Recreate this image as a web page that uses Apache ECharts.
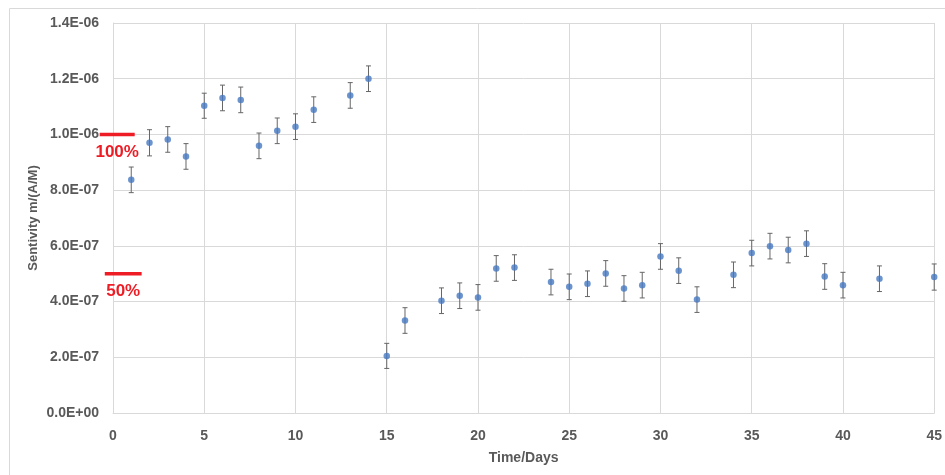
<!DOCTYPE html>
<html>
<head>
<meta charset="utf-8">
<script src="https://cdn.jsdelivr.net/npm/echarts@6/dist/echarts.min.js"></script>
<style>
  html, body { margin: 0; padding: 0; background: #fff; }
  #chart { width: 945px; height: 475px; }
</style>
</head>
<body>
<div id="chart"></div>
<script>
// Measurement days
const days = [1, 2, 3, 4, 5, 6, 7, 8, 9, 10, 11, 13, 14, 15, 16, 18, 19, 20, 21, 22,
              24, 25, 26, 27, 28, 29, 30, 31, 32, 34, 35, 36, 37, 38, 39, 40, 42, 45];
// Sensitivity values, m/(A/M)
const sensitivity = [8.37e-7, 9.70e-7, 9.82e-7, 9.21e-7, 1.103e-6, 1.131e-6, 1.124e-6, 9.59e-7,
                     1.013e-6, 1.028e-6, 1.089e-6, 1.140e-6, 1.200e-6, 2.05e-7, 3.32e-7, 4.03e-7,
                     4.21e-7, 4.15e-7, 5.19e-7, 5.22e-7, 4.70e-7, 4.53e-7, 4.64e-7, 5.01e-7,
                     4.47e-7, 4.59e-7, 5.62e-7, 5.11e-7, 4.07e-7, 4.96e-7, 5.74e-7, 5.99e-7,
                     5.85e-7, 6.08e-7, 4.90e-7, 4.59e-7, 4.82e-7, 4.88e-7];
// Error bar half-widths
const errors = [4.6e-8, 4.7e-8, 4.6e-8, 4.6e-8, 4.5e-8, 4.6e-8, 4.6e-8, 4.6e-8,
                4.6e-8, 4.6e-8, 4.6e-8, 4.6e-8, 4.6e-8, 4.5e-8, 4.6e-8, 4.6e-8,
                4.6e-8, 4.6e-8, 4.6e-8, 4.6e-8, 4.6e-8, 4.6e-8, 4.6e-8, 4.6e-8,
                4.6e-8, 4.6e-8, 4.6e-8, 4.6e-8, 4.6e-8, 4.6e-8, 4.6e-8, 4.6e-8,
                4.6e-8, 4.6e-8, 4.6e-8, 4.6e-8, 4.6e-8, 4.7e-8];
// Reference levels marked on the left side
const refLevels = [1.0e-6, 5.0e-7];
const refLabels = ['100%', '50%'];
// Axis ranges
const xMin = 0, xMax = 45, xStep = 5;
const yMin = 0, yMax = 1.4e-6, yStep = 2e-7;

const points = days.map((d, i) => [d, sensitivity[i]]);
const bars = days.map((d, i) => [d, sensitivity[i] - errors[i], sensitivity[i] + errors[i]]);

function sci(v) {
  if (Math.abs(v) < 1e-20) return '0.0E+00';
  const parts = v.toExponential(1).split('e');
  const exp = parseInt(parts[1], 10);
  const sign = exp < 0 ? '-' : '+';
  const mag = String(Math.abs(exp)).padStart(2, '0');
  return parts[0] + 'E' + sign + mag;
}

const labelFont = 'Liberation Sans, Arial, sans-serif';
const chart = echarts.init(document.getElementById('chart'));

const option = {
  animation: false,
  backgroundColor: '#ffffff',
  grid: { left: 113, right: 10, top: 23, bottom: 62, containLabel: false },
  xAxis: {
    type: 'value', min: xMin, max: xMax, interval: xStep,
    name: 'Time/Days', nameLocation: 'middle', nameGap: 38,
    nameTextStyle: { color: '#595959', fontSize: 14, fontWeight: 'bold', fontFamily: labelFont },
    axisLine: { show: true, lineStyle: { color: '#d9d9d9', width: 1 } },
    axisTick: { show: false },
    axisLabel: { color: '#595959', fontSize: 14, fontWeight: 'bold', fontFamily: labelFont, margin: 16 },
    splitLine: { show: true, lineStyle: { color: '#d9d9d9', width: 1 } }
  },
  yAxis: {
    type: 'value', min: yMin, max: yMax, interval: yStep,
    name: 'Sentivity m/(A/M)', nameLocation: 'middle', nameGap: 73, nameRotate: 90,
    nameMoveOverlap: false,
    nameTextStyle: { color: '#595959', fontSize: 13, fontWeight: 'bold', fontFamily: labelFont },
    axisLine: { show: true, lineStyle: { color: '#d9d9d9', width: 1 } },
    axisTick: { show: false },
    axisLabel: { color: '#595959', fontSize: 14, fontWeight: 'bold', fontFamily: labelFont, margin: 14,
                 formatter: sci },
    splitLine: { show: true, lineStyle: { color: '#d9d9d9', width: 1 } }
  },
  series: [
    {
      type: 'custom',
      data: bars,
      z: 2,
      renderItem: function (params, api) {
        const x = api.value(0);
        const lo = api.coord([x, api.value(1)]);
        const hi = api.coord([x, api.value(2)]);
        const cap = 2.5;
        const style = { stroke: '#666666', lineWidth: 1, fill: null };
        return {
          type: 'group',
          children: [
            { type: 'line', shape: { x1: lo[0], y1: lo[1], x2: hi[0], y2: hi[1] }, style: style },
            { type: 'line', shape: { x1: lo[0] - cap, y1: lo[1], x2: lo[0] + cap, y2: lo[1] }, style: style },
            { type: 'line', shape: { x1: hi[0] - cap, y1: hi[1], x2: hi[0] + cap, y2: hi[1] }, style: style }
          ]
        };
      }
    },
    {
      type: 'scatter',
      data: points,
      symbol: 'circle',
      symbolSize: 6.5,
      z: 3,
      itemStyle: { color: '#4679c2' }
    }
  ]
};
chart.setOption(option);

// Outer chart-area frame plus red reference markers with their labels
function drawExtras() {
  const elements = [{
    type: 'rect', silent: true,
    shape: { x: 9.5, y: 8.5, width: 940, height: 470 },
    style: { fill: null, stroke: '#d9d9d9', lineWidth: 1 }
  }];
  const xSpans = [[-0.73, 1.19], [-0.45, 1.57]];
  refLevels.forEach(function (lvl, i) {
    const a = chart.convertToPixel({ gridIndex: 0 }, [xSpans[i][0], lvl]);
    const b = chart.convertToPixel({ gridIndex: 0 }, [xSpans[i][1], lvl]);
    elements.push({
      type: 'line', silent: true, z: 10,
      shape: { x1: a[0], y1: a[1], x2: b[0], y2: b[1] },
      style: { stroke: '#ee1c25', lineWidth: 3.5 }
    });
    elements.push({
      type: 'text', silent: true, z: 10,
      x: (a[0] + b[0]) / 2, y: a[1] + 18,
      style: {
        text: refLabels[i], fill: '#ee1c25', fontSize: 17, fontWeight: 'bold',
        fontFamily: labelFont, align: 'center', verticalAlign: 'middle'
      }
    });
  });
  chart.setOption({ graphic: elements });
}
drawExtras();
</script>
</body>
</html>
